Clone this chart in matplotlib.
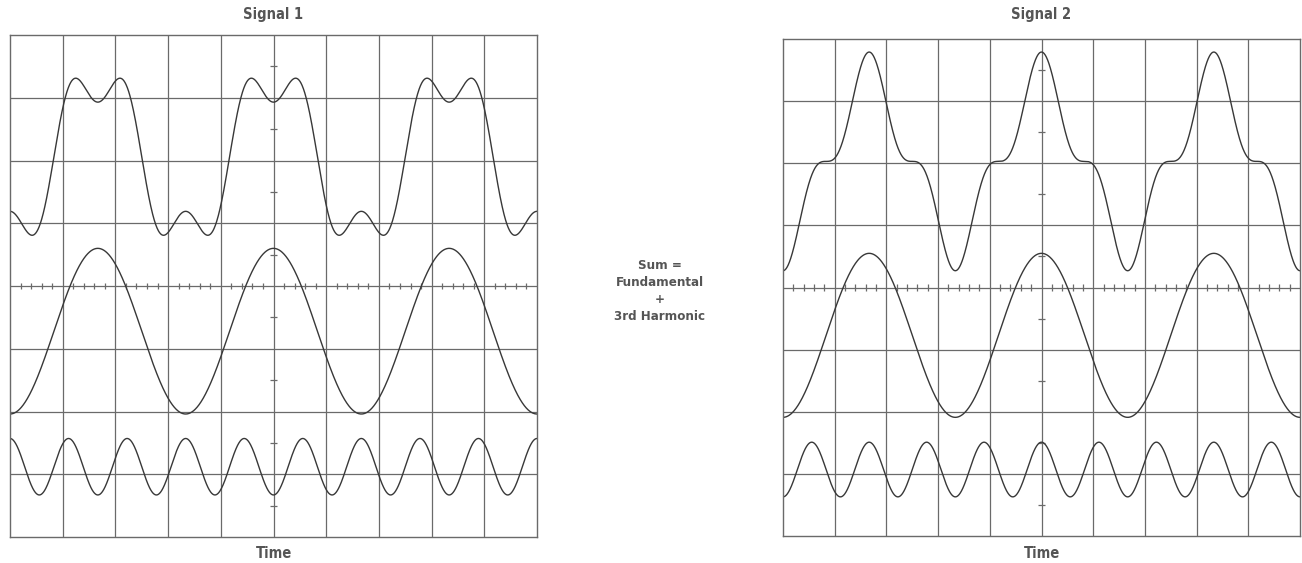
import matplotlib.pyplot as plt
import numpy as np
from matplotlib import font_manager

# in screen divisions (10 x 8, centre = 0)
titles = ["Signal 1", "Signal 2"]
fund_cycles = 3          # fundamental cycles across the 10 divisions
harm_order = 3
fund_amp = [1.32, 1.32]
fund_off = [-0.72, -0.77]
harm_amp = [0.45, 0.44]
harm_off = [-2.88, -2.93]
harm_sign = [-1, 1]      # 3rd harmonic out of / in phase at the centre
sum_off = [2.06, 2.03]

fams = {f.name for f in font_manager.fontManager.ttflist}
if "Liberation Sans Narrow" in fams:
    plt.rcParams["font.family"] = ["Liberation Sans Narrow", "DejaVu Sans"]
    stretch = "normal"
else:
    plt.rcParams["font.family"] = ["DejaVu Sans"]
    stretch = "condensed"

W, H = 1302, 563
fig = plt.figure(figsize=(W / 100, H / 100), dpi=100)
fig.patch.set_facecolor("white")

# panel boxes in pixels: left, top, right, bottom
boxes = [(10, 35, 537, 537), (783, 39, 1300, 536)]

grid_c = "#6a6a6a"
trace_c = "#383838"
text_c = "#555555"

x = np.linspace(0, 10, 2000)
theta = 2 * np.pi * fund_cycles * (x - 5) / 10

for i, (l, t, r, b) in enumerate(boxes):
    ax = fig.add_axes([l / W, (H - b) / H, (r - l) / W, (b - t) / H])
    ax.set_xlim(0, 10)
    ax.set_ylim(-4, 4)
    ax.set_xticks([])
    ax.set_yticks([])
    for s in ax.spines.values():
        s.set_color(grid_c)
        s.set_linewidth(1.0)
    for gx in range(1, 10):
        ax.axvline(gx, color=grid_c, lw=0.9)
    for gy in range(-3, 4):
        ax.axhline(gy, color=grid_c, lw=0.9)

    # centre graticule ticks
    tx = np.array([v for v in np.arange(0.2, 10, 0.2) if abs(v - round(v)) > 0.05])
    ax.vlines(tx, -0.05, 0.05, color=grid_c, lw=0.9)
    ty = np.arange(-3.5, 4, 1.0)
    ax.hlines(ty, 4.94, 5.06, color=grid_c, lw=0.9)

    fund = fund_amp[i] * np.cos(theta)
    harm = harm_sign[i] * harm_amp[i] * np.cos(harm_order * theta)
    ax.plot(x, sum_off[i] + fund + harm, color=trace_c, lw=1.0)
    ax.plot(x, fund_off[i] + fund, color=trace_c, lw=1.0)
    ax.plot(x, harm_off[i] + harm, color=trace_c, lw=1.0)

    cx = (l + r) / 2 / W
    fig.text(cx, 1 - 14 / H, titles[i], ha="center", va="center",
             fontsize=10.5, fontweight="bold", fontstretch=stretch, color=text_c)
    fig.text(cx, 1 - 553 / H, "Time", ha="center", va="center",
             fontsize=10.5, fontweight="bold", fontstretch=stretch, color=text_c)

fig.text(660 / W, 1 - 291 / H, "Sum =\nFundamental\n+\n3rd Harmonic",
         ha="center", va="center", fontsize=9.5, fontweight="bold",
         fontstretch=stretch, color=text_c, linespacing=1.4)

fig.savefig("out.png", dpi=100, facecolor="white")
